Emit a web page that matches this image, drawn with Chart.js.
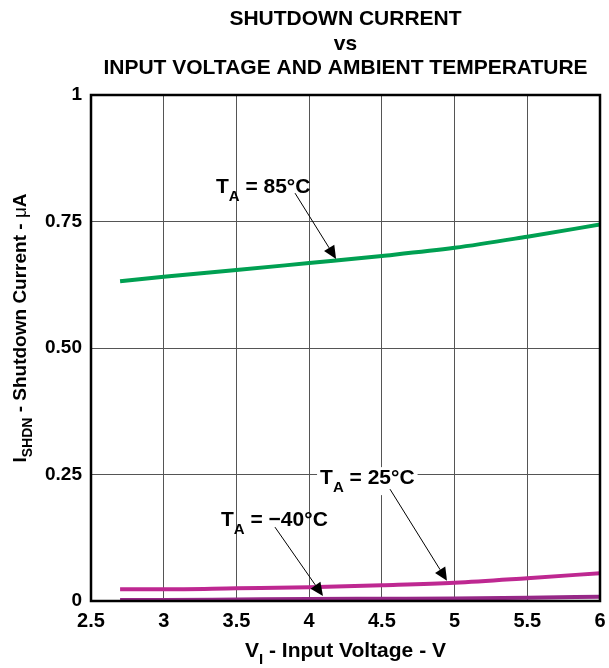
<!DOCTYPE html>
<html>
<head>
<meta charset="utf-8">
<script src="https://cdn.jsdelivr.net/npm/chart.js@4/dist/chart.umd.min.js"></script>
<style>
  body { margin: 0; background: #fff; }
  #wrap { width: 609px; height: 668px; position: relative; }
</style>
</head>
<body>
<div id="wrap"><canvas id="shdnChart"></canvas></div>
<script>
// values
const voltage = [2.7, 3, 3.5, 4, 4.5, 5, 5.5, 6];
const ta85 = [0.632, 0.641, 0.654, 0.668, 0.682, 0.698, 0.720, 0.744];
const ta25 = [0.023, 0.023, 0.025, 0.027, 0.031, 0.036, 0.045, 0.055];
const taMinus40 = [0.002, 0.002, 0.003, 0.004, 0.0045, 0.005, 0.0065, 0.0085];

const xTicks = [2.5, 3, 3.5, 4, 4.5, 5, 5.5, 6];
const yTicks = [0, 0.25, 0.5, 0.75, 1];
const yTickLabels = ['0', '0.25', '0.50', '0.75', '1'];

const titleLines = ['SHUTDOWN CURRENT', 'vs', 'INPUT VOLTAGE AND AMBIENT TEMPERATURE'];

// annotation text + arrow, in data units
const notes = [
    { temp: '85°C', text: [3.359, 0.806], from: [3.903, 0.806], to: [4.185, 0.676], box: false },
    { temp: '25°C', text: [4.075, 0.231], from: [4.556, 0.221], to: [4.948, 0.040], box: true },
    { temp: '\u221240°C', text: [3.394, 0.148], from: [3.765, 0.146], to: [4.095, 0.010], box: false }
];

const FONT = '"Liberation Sans", Arial, Helvetica, sans-serif';

function toPoints(ys) {
    return voltage.map((v, i) => ({ x: v, y: ys[i] }));
}

function drawArrow(ctx, x1, y1, x2, y2) {
    const ang = Math.atan2(y2 - y1, x2 - x1);
    const len = 13, half = 6;
    const bx = x2 - len * Math.cos(ang), by = y2 - len * Math.sin(ang);
    ctx.strokeStyle = '#000';
    ctx.lineWidth = 1;
    ctx.beginPath();
    ctx.moveTo(x1, y1);
    ctx.lineTo(bx, by);
    ctx.stroke();
    ctx.fillStyle = '#000';
    ctx.beginPath();
    ctx.moveTo(x2, y2);
    ctx.lineTo(bx + half * Math.sin(ang), by - half * Math.cos(ang));
    ctx.lineTo(bx - half * Math.sin(ang), by + half * Math.cos(ang));
    ctx.closePath();
    ctx.fill();
}

// draws pieces of text side by side: [text, size, dy, weight]
function drawParts(ctx, parts, x, y) {
    parts.forEach(p => {
        ctx.font = (p[3] || 'bold') + ' ' + p[1] + 'px ' + FONT;
        ctx.fillText(p[0], x, y + p[2]);
        x += ctx.measureText(p[0]).width;
    });
}

function partsWidth(ctx, parts) {
    let w = 0;
    parts.forEach(p => {
        ctx.font = (p[3] || 'bold') + ' ' + p[1] + 'px ' + FONT;
        w += ctx.measureText(p[0]).width;
    });
    return w;
}

const decorPlugin = {
    id: 'decor',
    afterDraw(chart) {
        const { ctx, chartArea: a, scales } = chart;
        const xs = scales.x, ys = scales.y;
        ctx.save();

        // frame
        ctx.strokeStyle = '#000';
        ctx.lineWidth = 2.5;
        ctx.strokeRect(a.left, a.top, a.right - a.left, a.bottom - a.top);

        // title
        ctx.fillStyle = '#000';
        ctx.textAlign = 'center';
        ctx.textBaseline = 'alphabetic';
        ctx.font = 'bold 21px ' + FONT;
        const cx = (a.left + a.right) / 2;
        titleLines.forEach((t, i) => ctx.fillText(t, cx, 25 + i * 24.5));

        // x axis title: V_I - Input Voltage - V
        ctx.textAlign = 'left';
        const xParts = [['V', 21, 0], ['I', 15, 7], [' - Input Voltage - V', 21, 0]];
        drawParts(ctx, xParts, cx - partsWidth(ctx, xParts) / 2, 657);

        // y axis title: I_SHDN - Shutdown Current - µA
        ctx.save();
        ctx.translate(26, (a.top + a.bottom) / 2 - 20);
        ctx.rotate(-Math.PI / 2);
        const yParts = [['I', 19, 0], ['SHDN', 14, 6], [' - Shutdown Current - ', 19, 0], ['\u03bc', 19, 0, 'normal'], ['A', 19, 0]];
        drawParts(ctx, yParts, -partsWidth(ctx, yParts) / 2, 0);
        ctx.restore();

        // annotations
        notes.forEach(n => {
            const tx = xs.getPixelForValue(n.text[0]);
            const ty = ys.getPixelForValue(n.text[1]);
            const parts = [['T', 21, 0], ['A', 15, 8], [' = ' + n.temp, 21, 0]];
            if (n.box) {
                ctx.fillStyle = '#fff';
                ctx.fillRect(tx - 3, ty - 17, partsWidth(ctx, parts) + 6, 28);
            }
            ctx.fillStyle = '#000';
            drawParts(ctx, parts, tx, ty);
            drawArrow(ctx,
                xs.getPixelForValue(n.from[0]), ys.getPixelForValue(n.from[1]),
                xs.getPixelForValue(n.to[0]), ys.getPixelForValue(n.to[1]));
        });
        ctx.restore();
    }
};

const lineStyle = { borderWidth: 4, pointRadius: 0, cubicInterpolationMode: 'monotone', fill: false };

new Chart(document.getElementById('shdnChart'), {
    type: 'line',
    data: {
        datasets: [
            { label: 'TA = 85°C', data: toPoints(ta85), borderColor: 'rgb(0, 160, 82)', ...lineStyle },
            { label: 'TA = 25°C', data: toPoints(ta25), borderColor: 'rgb(190, 40, 145)', ...lineStyle },
            { label: 'TA = -40°C', data: toPoints(taMinus40), borderColor: 'rgb(150, 40, 135)', ...lineStyle }
        ]
    },
    options: {
        responsive: true,
        maintainAspectRatio: false,
        animation: false,
        layout: { padding: { top: 95, right: 9, left: 0, bottom: 0 } },
        plugins: {
            legend: { display: false },
            tooltip: { enabled: false }
        },
        scales: {
            x: {
                type: 'linear',
                min: 2.5,
                max: 6,
                afterFit: (scale) => {
                    scale.height = 67;
                    scale.paddingRight = 0;
                    scale.paddingLeft = 0;
                },
                afterBuildTicks: (scale) => { scale.ticks = xTicks.map(v => ({ value: v })); },
                grid: { color: '#555', lineWidth: 1, drawTicks: false },
                border: { display: false },
                ticks: {
                    color: '#000',
                    padding: 8,
                    maxRotation: 0,
                    autoSkip: false,
                    font: { family: FONT, size: 20, weight: 'bold' },
                    callback: (v) => String(v)
                }
            },
            y: {
                min: 0,
                max: 1,
                afterFit: (scale) => { scale.width = 91; },
                afterBuildTicks: (scale) => { scale.ticks = yTicks.map(v => ({ value: v })); },
                grid: { color: '#555', lineWidth: 1, drawTicks: false },
                border: { display: false },
                ticks: {
                    color: '#000',
                    padding: 9,
                    autoSkip: false,
                    font: { family: FONT, size: 19, weight: 'bold' },
                    callback: (v) => yTickLabels[yTicks.indexOf(v)]
                }
            }
        }
    },
    plugins: [decorPlugin]
});
</script>
</body>
</html>
